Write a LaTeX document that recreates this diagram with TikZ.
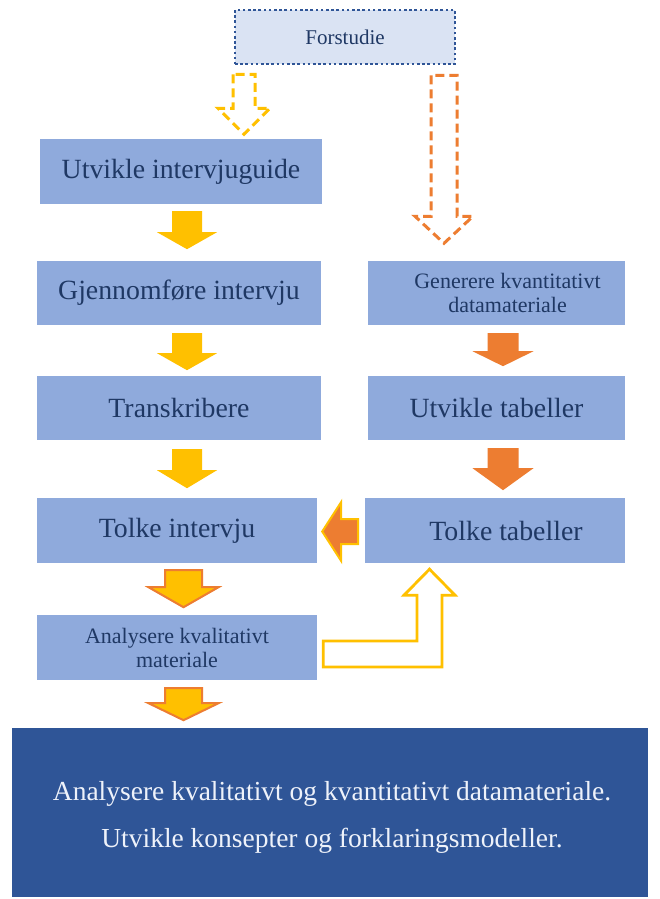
\documentclass[tikz,border=0pt]{standalone}
\usepackage{fontspec}
\setmainfont{Liberation Serif}
\usetikzlibrary{calc}
\definecolor{boxblue}{HTML}{8FAADC}
\definecolor{navy}{HTML}{1F3864}
\definecolor{darkblue}{HTML}{2F5597}
\definecolor{paleblue}{HTML}{DAE3F3}
\definecolor{gold}{HTML}{FFC000}
\definecolor{orng}{HTML}{ED7D31}
\definecolor{whitetxt}{HTML}{EEF2FA}
\tikzset{
  box/.style={fill=boxblue, draw=none, text=navy, inner sep=0pt, align=center},
  bigtxt/.style={font=\fontsize{27.8}{30}\selectfont},
  smalltxt/.style={font=\fontsize{22}{24}\selectfont},
  yarrow/.style={fill=gold, draw=none},
  oarrow/.style={fill=orng, draw=none},
  yoarrow/.style={fill=gold, draw=orng, line width=2pt, line join=miter},
  ydash/.style={draw=gold, fill=white, line width=3pt, dash pattern=on 9pt off 5pt},
  odash/.style={draw=orng, fill=white, line width=3pt, dash pattern=on 9pt off 5pt},
}
% #1 style, #2 top centre coordinate, #3 shaft length, #4 head length, #5 half shaft, #6 half head
\newcommand{\blockdown}[6]{%
  \draw[#1] ($(#2)+(-#5,0)$) -- ++(0,#3) -- ++({#5-#6},0) -- ++(#6,#4) -- ++(#6,-#4) -- ++({#5-#6},0) -- ++(0,-#3) -- cycle;}
\begin{document}
\begin{tikzpicture}[x=1pt,y=-1pt]
\useasboundingbox[fill=white] (0,0) rectangle (660,899);

% Forstudie
\node[fill=paleblue, draw=darkblue, line width=2.6pt, dash pattern=on 2.6pt off 2.6pt,
      minimum width=220, minimum height=54, inner sep=0pt, text=navy,
      font=\fontsize{21}{24}\selectfont] (fs) at (345,37) {Forstudie};

% left column
\node[box, bigtxt, minimum width=282, minimum height=65] (b1) at (181,171.5) {Utvikle intervjuguide};
\node[box, bigtxt, minimum width=284, minimum height=64] (b2) at (179,293) {Gjennomføre intervju};
\node[box, bigtxt, minimum width=284, minimum height=64] (b3) at (179,408) {Transkribere};
\node[box, bigtxt, minimum width=280, minimum height=65] (b4) at (177,530.5) {Tolke intervju};
\node[box, smalltxt, minimum width=280, minimum height=65] (b5) at (177,647.5) {Analysere kvalitativt\\materiale};

% right column
\node[box, smalltxt, minimum width=257, minimum height=64] (r1) at (496.5,293) {\hspace*{22pt}Generere kvantitativt\\\hspace*{22pt}datamateriale};
\node[box, bigtxt, minimum width=257, minimum height=64] (r2) at (496.5,408) {Utvikle tabeller};
\node[box, bigtxt, minimum width=260, minimum height=65] (r3) at (495,530.5) {\hspace*{22pt}Tolke tabeller};

% bottom box
\node[fill=darkblue, draw=none, minimum width=636, minimum height=169, inner sep=0pt] (bot) at (330,812.5) {};
\node[text=whitetxt, align=center, inner sep=0pt, font=\fontsize{27.5}{47}\selectfont] (bottxt)
      at ($(bot.center)+(2,5)$)
      {Analysere kvalitativt og kvantitativt datamateriale.\\Utvikle konsepter og forklaringsmodeller.};

% dashed arrows from Forstudie
\coordinate (dy) at ($(fs.south)+(-101,9)$);
\coordinate (do) at ($(fs.south)+(99,10)$);
\blockdown{ydash}{dy}{34}{26}{11}{26}
\blockdown{odash}{do}{141}{27}{13}{29}

% yellow arrows left column
\coordinate (a1) at ($(b1.south)+(6,7)$);
\coordinate (a2) at ($(b2.south)+(8,8)$);
\coordinate (a3) at ($(b3.south)+(8,9)$);
\blockdown{yarrow}{a1}{21}{17}{15}{30}
\blockdown{yarrow}{a2}{20}{17}{15}{30}
\blockdown{yarrow}{a3}{21}{18}{15}{30}

% yellow/orange arrows
\coordinate (a4) at ($(b4.south)+(6.5,7)$);
\coordinate (a5) at ($(b5.south)+(6.5,8)$);
\blockdown{yoarrow}{a4}{17}{20}{18.5}{35}
\blockdown{yoarrow}{a5}{15}{17}{18.5}{35}

% orange arrows right column
\coordinate (o1) at ($(r1.south)+(6.5,8)$);
\coordinate (o2) at ($(r2.south)+(6.5,8)$);
\blockdown{oarrow}{o1}{18}{15}{15.5}{30.5}
\blockdown{oarrow}{o2}{20}{22}{15.5}{30.5}

% left-pointing arrow from Tolke tabeller to Tolke intervju
\coordinate (lt) at ($(b4.east)+(5,1)$);
\draw[fill=orng, draw=gold, line width=2pt, line join=miter]
  (lt) -- ++(19,-29.5) -- ++(0,17) -- ++(17,0) -- ++(0,25) -- ++(-17,0) -- ++(0,17) -- cycle;

% bent hollow arrow from Analysere kvalitativt materiale up to Tolke tabeller
\coordinate (bl) at ($(b5.east)+(6,6.5)$);
\coordinate (bt) at ($(r3.south)+(-65.5,6)$);
\draw[draw=gold, fill=white, line width=2.8pt, line join=miter]
  ($(bl)+(0,-13)$) -- ($(bt |- bl)+(-12.5,-13)$) -- ($(bt)+(-12.5,26)$) -- ($(bt)+(-25.5,26)$)
  -- (bt) -- ($(bt)+(25.5,26)$) -- ($(bt)+(12.5,26)$) -- ($(bt |- bl)+(12.5,13)$)
  -- ($(bl)+(0,13)$) -- cycle;
\end{tikzpicture}
\end{document}
